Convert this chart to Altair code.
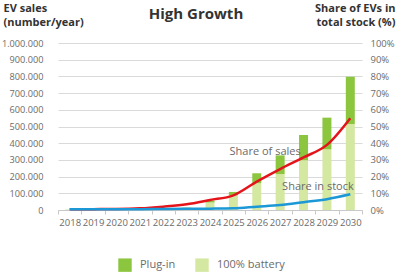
import altair as alt
import pandas as pd

years = [str(y) for y in range(2018, 2031)]
battery = [1000, 1500, 2000, 3000, 5000, 8000, 45000, 88000, 160000, 215000, 298000, 363000, 515000]
plugin = [1000, 1500, 2000, 3000, 4000, 6000, 12000, 20000, 60000, 112000, 151000, 190000, 283000]
share_sales = [0.004, 0.005, 0.006, 0.010, 0.020, 0.034, 0.060, 0.088, 0.170, 0.245, 0.315, 0.390, 0.550]
share_stock = [0.004, 0.004, 0.005, 0.005, 0.006, 0.007, 0.008, 0.010, 0.020, 0.030, 0.047, 0.065, 0.094]
line_labels = ["Share of sales", "Share in stock"]
label_years = ["2027", "2029"]
label_shares = [0.35, 0.135]

FONT = "Open Sans"
GRAY = "#6b6b6b"

bars_df = pd.DataFrame(
    [{"year": y, "type": "100% battery", "ord": 0, "value": b} for y, b in zip(years, battery)]
    + [{"year": y, "type": "Plug-in", "ord": 1, "value": p} for y, p in zip(years, plugin)]
)
lines_df = pd.DataFrame(
    [{"year": y, "series": "sales", "share": s} for y, s in zip(years, share_sales)]
    + [{"year": y, "series": "stock", "share": s} for y, s in zip(years, share_stock)]
)
labels_df = pd.DataFrame({"year": label_years, "share": label_shares, "text": line_labels})

x = alt.X("year:N", title=None, sort=years,
          scale=alt.Scale(paddingInner=0, paddingOuter=0),
          axis=alt.Axis(labelAngle=0, labelFontSize=9.5, labelColor=GRAY, labelFont=FONT,
                        domainColor="#c8c8c8", tickColor="#c8c8c8", tickSize=4,
                        tickBand="extent", labelPadding=3, grid=False))

bars = alt.Chart(bars_df).mark_bar(size=9).encode(
    x=x,
    y=alt.Y("value:Q", stack="zero",
            scale=alt.Scale(domain=[0, 1000000], nice=False),
            title=["EV sales", "(number/year)"],
            axis=alt.Axis(values=list(range(0, 1000001, 100000)),
                          labelExpr="replace(format(datum.value, ','), regexp(',', 'g'), '.')",
                          labelFontSize=9.2, labelColor=GRAY, labelFont=FONT, labelPadding=15,
                          ticks=False, domain=False, gridColor="#dadada", gridWidth=1,
                          titleAngle=0, titleAlign="left", titleBaseline="top",
                          titleX=-55, titleY=-41, titleFontSize=11, titleFont=FONT,
                          titleFontWeight="bold", titleColor="#333333", titleLineHeight=14)),
    color=alt.Color("type:N",
                    scale=alt.Scale(domain=["Plug-in", "100% battery"], range=["#8cc63f", "#d5e8a2"]),
                    legend=alt.Legend(title=None, orient="none", direction="horizontal",
                                      legendX=60, legendY=215, symbolType="square",
                                      symbolSize=180, symbolStrokeWidth=0, labelFontSize=11,
                                      labelFont=FONT, labelColor=GRAY, labelOffset=8,
                                      columnPadding=19)),
    order=alt.Order("ord:Q", sort="ascending"),
)

y2 = alt.Y("share:Q", scale=alt.Scale(domain=[0, 1], nice=False),
           title=["Share of EVs in", "total stock (%)"],
           axis=alt.Axis(orient="right", values=[i / 10 for i in range(11)], format=".0%",
                         labelFontSize=9.5, labelColor=GRAY, labelFont=FONT, labelPadding=8,
                         ticks=False, domain=False, grid=False,
                         titleAngle=0, titleAlign="right", titleBaseline="top",
                         titleX=33, titleY=-41, titleFontSize=11, titleFont=FONT,
                         titleFontWeight="bold", titleColor="#333333", titleLineHeight=14))

lines = alt.Chart(lines_df).mark_line(strokeWidth=2.5, interpolate="monotone").encode(
    x=x,
    y=y2,
    color=alt.Color("series:N", scale=alt.Scale(domain=["sales", "stock"], range=["#e5141b", "#1b98d5"]),
                    legend=None),
    order=alt.Order("year:N"),
    detail="series:N",
)

t1 = alt.Chart(labels_df.iloc[[0]]).mark_text(fontSize=11, font=FONT, color=GRAY, baseline="middle", dx=-15).encode(
    x=x, y=y2, text="text:N")
t2 = alt.Chart(labels_df.iloc[[1]]).mark_text(fontSize=11, font=FONT, color=GRAY, baseline="middle", dx=-9).encode(
    x=x, y=y2, text="text:N")

right = alt.layer(lines, t1, t2)

chart = alt.layer(bars, right).resolve_scale(y="independent", color="independent").properties(
    width=304, height=167,
    autosize=alt.AutoSizeParams(type="none"),
    padding={"left": 58, "top": 43, "right": 38, "bottom": 65},
    background="white",
    title=alt.TitleParams("High Growth", fontSize=15, font=FONT, fontWeight="bold",
                          color="#333333", anchor="middle", dx=-14, offset=0, dy=20),
).configure_view(stroke=None)

chart.save("out.html", embed_options={"renderer": "svg", "actions": False})
